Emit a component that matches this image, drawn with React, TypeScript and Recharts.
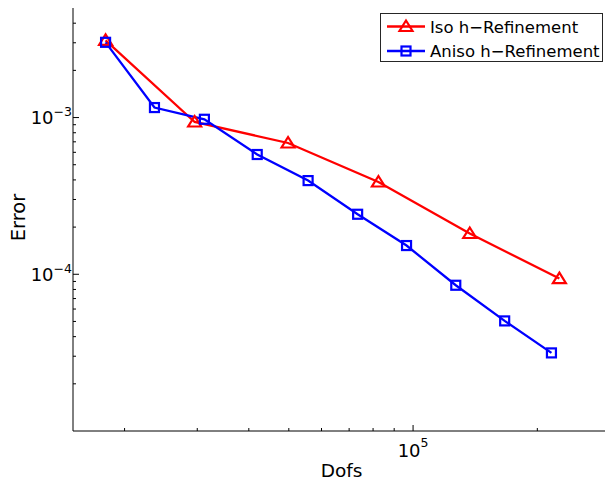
import React from 'react';
import { LineChart, Line, XAxis, YAxis, Legend } from 'recharts';

// values (log-log)
const isoDofs = [17990, 29570, 49790, 82430, 137200, 226200];
const isoError = [3.11e-3, 9.37e-4, 6.88e-4, 3.88e-4, 1.82e-4, 9.39e-5];

const anisoDofs = [17990, 23630, 31220, 41920, 55680, 73400, 96430, 126900, 166700, 216400];
const anisoError = [3.02e-3, 1.158e-3, 9.75e-4, 5.81e-4, 3.96e-4, 2.415e-4, 1.525e-4, 8.51e-5, 5.04e-5, 3.15e-5];

const xTicks = [2e4, 3e4, 4e4, 5e4, 6e4, 7e4, 8e4, 9e4, 1e5, 2e5, 3e5];
const yTicks = [
  2e-5, 3e-5, 4e-5, 5e-5, 6e-5, 7e-5, 8e-5, 9e-5, 1e-4,
  2e-4, 3e-4, 4e-4, 5e-4, 6e-4, 7e-4, 8e-4, 9e-4, 1e-3,
  2e-3, 3e-3, 4e-3,
];

const seriesNames = ['Iso h\u2212Refinement', 'Aniso h\u2212Refinement'];

const isoData = isoDofs.map((d, i) => ({ dofs: d, err: isoError[i] }));
const anisoData = anisoDofs.map((d, i) => ({ dofs: d, err: anisoError[i] }));

const FONT = '"DejaVu Sans", Verdana, sans-serif';
const RED = '#ff0000';
const BLUE = '#0000ff';

const isPow10 = (v: number) => {
  const l = Math.log10(v);
  return Math.abs(l - Math.round(l)) < 1e-9;
};
const expText = (v: number) => {
  const e = Math.round(Math.log10(v));
  return e < 0 ? `\u2212${-e}` : `${e}`;
};

function Triangle({ cx, cy }: { cx: number; cy: number }) {
  return (
    <path
      d={`M${cx},${cy - 6} L${cx + 6.5},${cy + 4.5} L${cx - 6.5},${cy + 4.5} Z`}
      fill="none"
      stroke={RED}
      strokeWidth={2.2}
    />
  );
}

function Square({ cx, cy }: { cx: number; cy: number }) {
  return <rect x={cx - 4.5} y={cy - 4.5} width={9} height={9} fill="none" stroke={BLUE} strokeWidth={2.2} />;
}

function BottomTick(props: any) {
  const { x, y, payload } = props;
  const major = isPow10(payload.value);
  return (
    <g>
      <line x1={x} x2={x} y1={y} y2={y - (major ? 6 : 3)} stroke="#000" />
      {major && (
        <text x={x} y={y + 26} textAnchor="middle" fontFamily={FONT} fontSize={18} fill="#000">
          <tspan>10</tspan>
          <tspan dy={-10} fontSize={12.5}>{expText(payload.value)}</tspan>
        </text>
      )}
    </g>
  );
}

function TopTick(props: any) {
  const { x, y, payload } = props;
  const major = isPow10(payload.value);
  return <line x1={x} x2={x} y1={y} y2={y + (major ? 6 : 3)} stroke="#000" />;
}

function LeftTick(props: any) {
  const { x, y, payload } = props;
  const major = isPow10(payload.value);
  return (
    <g>
      <line x1={x} x2={x + (major ? 6 : 3)} y1={y} y2={y} stroke="#000" />
      {major && (
        <text x={x - 1} y={y + 6.5} textAnchor="end" fontFamily={FONT} fontSize={18} fill="#000">
          <tspan>10</tspan>
          <tspan dy={-8} fontSize={12.5}>{expText(payload.value)}</tspan>
        </text>
      )}
    </g>
  );
}

function ErrorLabel() {
  return (
    <text transform="translate(25,217.5) rotate(-90)" textAnchor="middle" fontFamily={FONT} fontSize={19.5} fill="#000">
      Error
    </text>
  );
}

function LegendBox() {
  const rows = [
    { name: seriesNames[0], color: RED, y: 13.5, marker: 'tri' },
    { name: seriesNames[1], color: BLUE, y: 38, marker: 'sq' },
  ];
  return (
    <svg width={223} height={49} style={{ display: 'block' }}>
      <rect x={0.5} y={0.5} width={222} height={48} fill="#fff" stroke="#262626" />
      {rows.map((r) => (
        <g key={r.name}>
          <line x1={7} x2={45} y1={r.y} y2={r.y} stroke={r.color} strokeWidth={2.3} />
          {r.marker === 'tri' ? <Triangle cx={26} cy={r.y} /> : <Square cx={26} cy={r.y} />}
          <text x={50} y={r.y + 6} fontFamily={FONT} fontSize={16.5} fill="#000">
            {r.name}
          </text>
        </g>
      ))}
    </svg>
  );
}

export default function App() {
  return (
    <div style={{ position: 'relative', width: 605, height: 481, overflow: 'hidden', background: '#fff' }}>
      <style>{'body{margin:0;}'}</style>
      <LineChart width={640} height={481} margin={{ top: 8, right: 30, bottom: 0, left: 0 }}>
        <XAxis
          xAxisId="bottom"
          dataKey="dofs"
          type="number"
          scale="log"
          domain={[15000, 300000]}
          allowDataOverflow
          ticks={xTicks}
          interval={0}
          height={50}
          tickSize={0}
          tickMargin={0}
          tickLine={false}
          axisLine={{ stroke: '#000' }}
          tick={<BottomTick />}
          label={{
            value: 'Dofs',
            position: 'insideBottom',
            offset: 4,
            style: { fontFamily: FONT, fontSize: 18.5, fill: '#000' },
          }}
        />
        <XAxis
          xAxisId="top"
          orientation="top"
          dataKey="dofs"
          type="number"
          scale="log"
          domain={[15000, 300000]}
          allowDataOverflow
          ticks={xTicks}
          interval={0}
          height={0}
          tickSize={0}
          tickMargin={0}
          tickLine={false}
          axisLine={{ stroke: '#000' }}
          tick={<TopTick />}
        />
        <YAxis
          dataKey="err"
          type="number"
          scale="log"
          domain={[1e-5, 5e-3]}
          allowDataOverflow
          ticks={yTicks}
          interval={0}
          width={73}
          tickSize={0}
          tickMargin={0}
          tickLine={false}
          axisLine={{ stroke: '#000' }}
          tick={<LeftTick />}
          label={<ErrorLabel />}
        />
        <Legend
          layout="horizontal"
          verticalAlign="middle"
          align="center"
          content={() => <LegendBox />}
          wrapperStyle={{ left: 380, top: 13, width: 223, height: 49 }}
        />
        <Line
          xAxisId="bottom"
          data={isoData}
          dataKey="err"
          name={seriesNames[0]}
          type="linear"
          stroke={RED}
          strokeWidth={2.3}
          dot={(p: any) => <Triangle key={`t${p.index}`} cx={p.cx} cy={p.cy} />}
          activeDot={false}
          isAnimationActive={false}
        />
        <Line
          xAxisId="bottom"
          data={anisoData}
          dataKey="err"
          name={seriesNames[1]}
          type="linear"
          stroke={BLUE}
          strokeWidth={2.3}
          dot={(p: any) => <Square key={`s${p.index}`} cx={p.cx} cy={p.cy} />}
          activeDot={false}
          isAnimationActive={false}
        />
      </LineChart>
    </div>
  );
}
